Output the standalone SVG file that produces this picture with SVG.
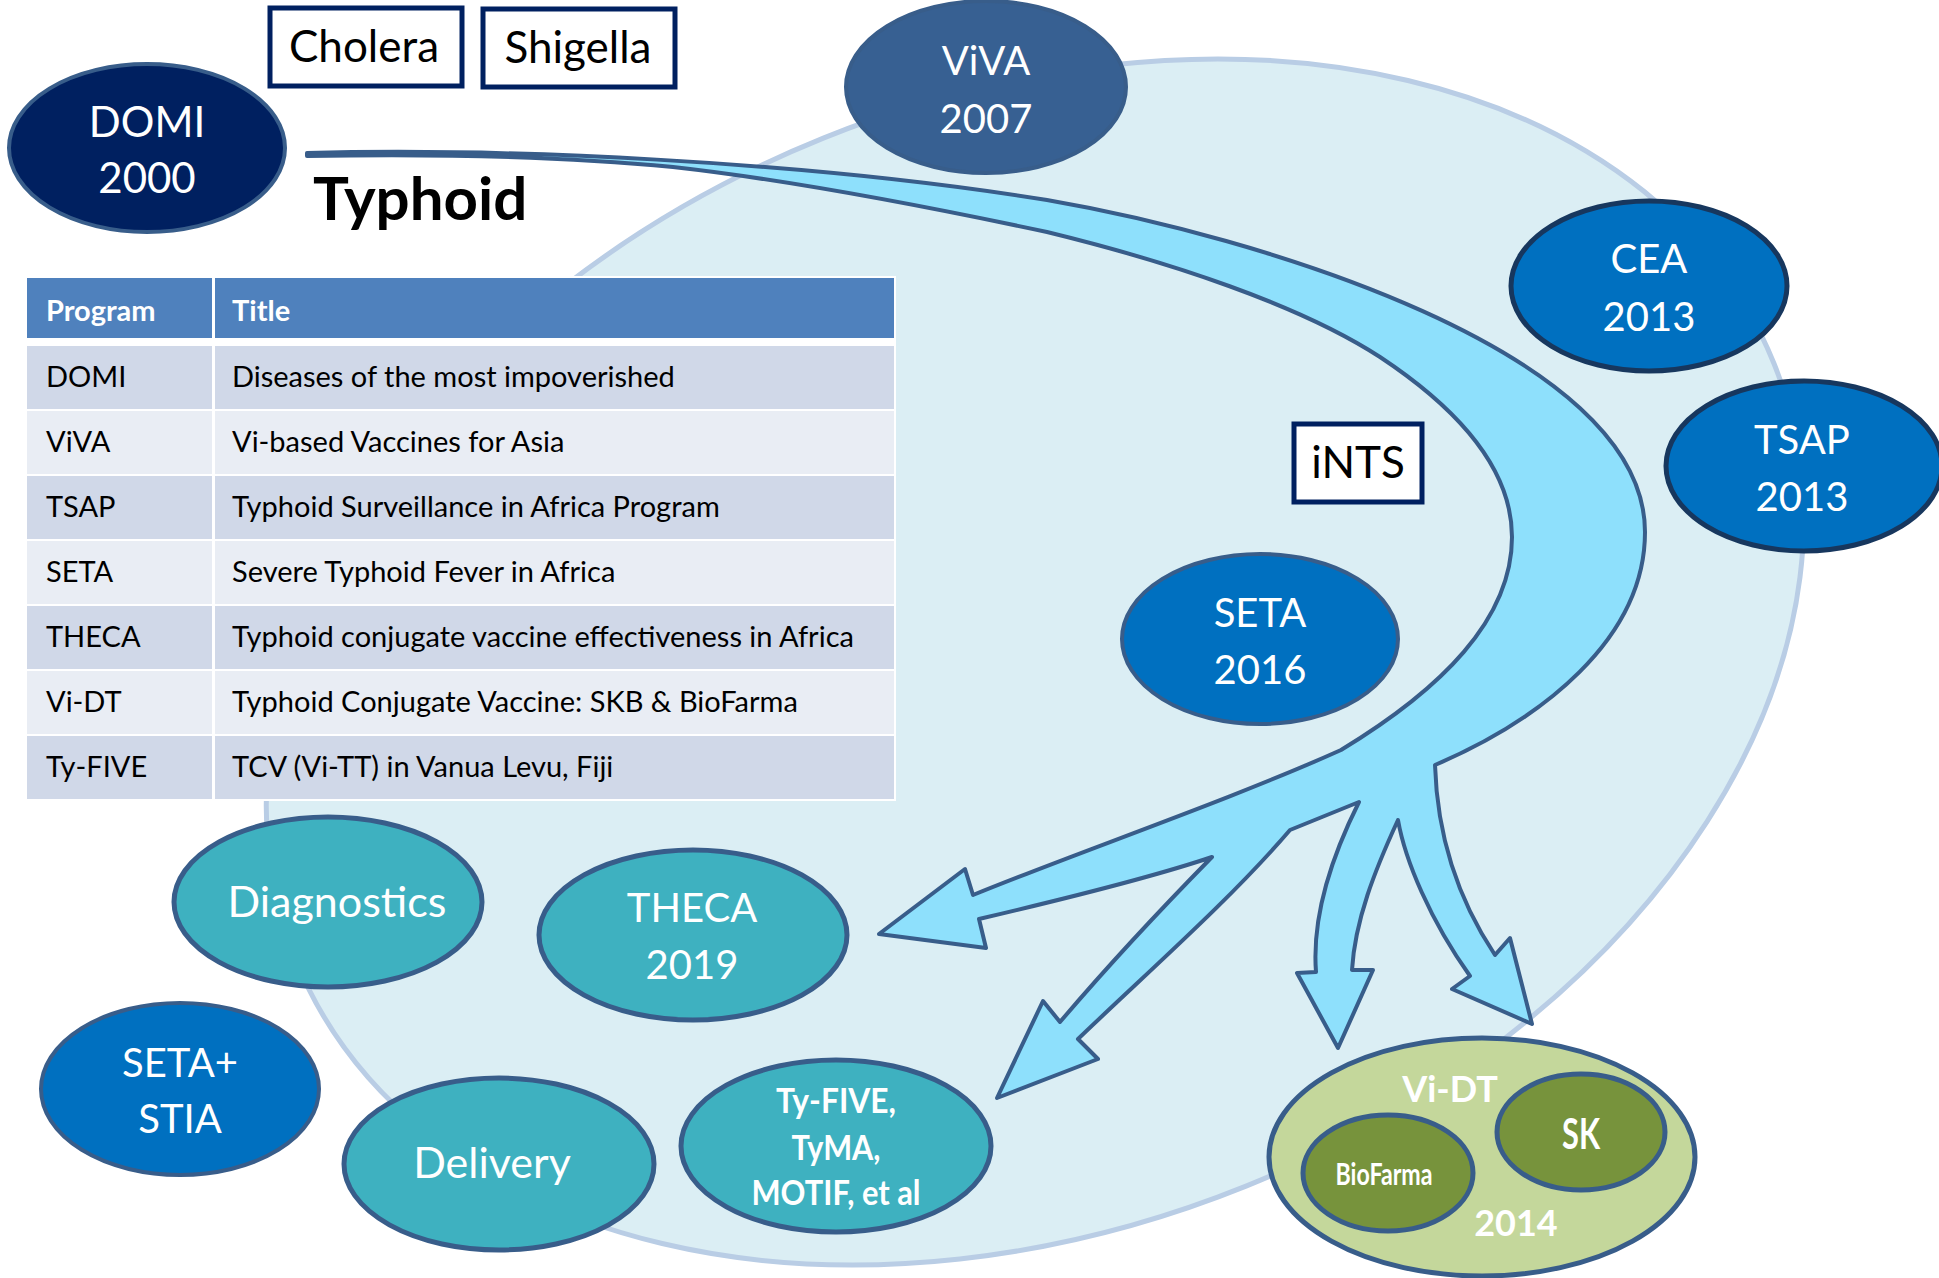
<svg xmlns="http://www.w3.org/2000/svg" width="1939" height="1278" viewBox="0 0 1939 1278">
<style>
.lbl{font-family:Lato,"Liberation Sans",sans-serif;fill:#fff;text-anchor:middle}
.big{font-size:40px}
.box{fill:#fff;stroke:#002060;stroke-width:5}
.boxt{font-family:Lato,"Liberation Sans",sans-serif;font-size:44px;fill:#000;text-anchor:middle}
.navy{fill:#002060;stroke:#385D8A;stroke-width:4}
.mid{fill:#376092;stroke:#385D8A;stroke-width:4}
.blue{fill:#0070C0;stroke:#385D8A;stroke-width:4}
.blue2{fill:#0070C0;stroke:#17375E;stroke-width:5}
.teal{fill:#3EB1C0;stroke:#385D8A;stroke-width:5}
.olive{fill:#C4D79B;stroke:#385D8A;stroke-width:5}
.dolive{fill:#77933C;stroke:#385D8A;stroke-width:5}
.th{font-family:Lato,"Liberation Sans",sans-serif;font-size:29px;font-weight:bold;fill:#fff}
.td{font-family:Lato,"Liberation Sans",sans-serif;font-size:29px;fill:#000}
.r1{fill:#D0D8E8}
.r2{fill:#E9EDF4}
.bold{font-weight:bold}
</style>
<rect width="1939" height="1278" fill="#fff"/>
<g id="background">
<ellipse cx="1035" cy="662" rx="797" ry="565" transform="rotate(-22 1035 662)" fill="#DBEEF4" stroke="#B9CDE5" stroke-width="5"/>
</g>
<g id="table">
<rect x="25" y="276" width="871" height="525" fill="#fff"/>
<rect x="27" y="278" width="185" height="60" fill="#4F81BD"/>
<rect x="215" y="278" width="679" height="60" fill="#4F81BD"/>
<text class="th" x="46" y="321">Program</text>
<text class="th" x="232" y="321">Title</text>
<rect class="r1" x="27" y="346" width="185" height="63"/><rect class="r1" x="215" y="346" width="679" height="63"/>
<rect class="r2" x="27" y="411" width="185" height="63"/><rect class="r2" x="215" y="411" width="679" height="63"/>
<rect class="r1" x="27" y="476" width="185" height="63"/><rect class="r1" x="215" y="476" width="679" height="63"/>
<rect class="r2" x="27" y="541" width="185" height="63"/><rect class="r2" x="215" y="541" width="679" height="63"/>
<rect class="r1" x="27" y="606" width="185" height="63"/><rect class="r1" x="215" y="606" width="679" height="63"/>
<rect class="r2" x="27" y="671" width="185" height="63"/><rect class="r2" x="215" y="671" width="679" height="63"/>
<rect class="r1" x="27" y="736" width="185" height="63"/><rect class="r1" x="215" y="736" width="679" height="63"/>
<text class="td" x="46" y="387">DOMI</text><text class="td" x="232" y="387">Diseases of the most impoverished</text>
<text class="td" x="46" y="452">ViVA</text><text class="td" x="232" y="452">Vi-based Vaccines for Asia</text>
<text class="td" x="46" y="517">TSAP</text><text class="td" x="232" y="517">Typhoid Surveillance in Africa Program</text>
<text class="td" x="46" y="582">SETA</text><text class="td" x="232" y="582">Severe Typhoid Fever in Africa</text>
<text class="td" x="46" y="647">THECA</text><text class="td" x="232" y="647">Typhoid conjugate vaccine effectiveness in Africa</text>
<text class="td" x="46" y="712">Vi-DT</text><text class="td" x="232" y="712">Typhoid Conjugate Vaccine: SKB &amp; BioFarma</text>
<text class="td" x="46" y="777">Ty-FIVE</text><text class="td" x="232" y="777">TCV (Vi-TT) in Vanua Levu, Fiji</text>
</g>
<g id="connectors">
<path d="M307,153 C500,148 800,160 1047,200 C1250,235 1645,350 1645,532 C1645,640 1540,720 1435,765 C1437,830 1455,895 1495,955 L1510,938 L1532,1024 L1452,989 L1470,976 C1430,920 1405,860 1398,820 C1375,870 1355,920 1352,970 L1373,970 L1338,1048 L1297,973 L1316,972 C1312,920 1330,860 1359,802 L1290,830 C1230,900 1150,970 1078,1039 L1098,1059 L997,1098 L1043,1001 L1060,1022 C1100,975 1160,910 1212,857 C1150,878 1060,900 979,919 L986,948 L879,934 L965,869 L973,895 C1070,855 1230,800 1341,750 C1440,690 1512,620 1512,537 C1512,470 1460,410 1380,357 C1300,305 1170,262 1047,232 C920,205 790,180 673,167 C560,156 420,154 307,156 Z" fill="#8EE0FC" stroke="#385D8A" stroke-width="4" stroke-linejoin="round"/>
</g>
<g id="typhoid-label">
<text x="313" y="220" font-family="Lato,'Liberation Sans',sans-serif" font-size="60" font-weight="bold" fill="#000">Typhoid</text>
</g>
<g id="cholera"><rect class="box" x="270" y="8" width="192" height="78"/><text class="boxt" x="364" y="62">Cholera</text></g>
<g id="shigella"><rect class="box" x="483" y="9" width="192" height="78"/><text class="boxt" x="578" y="63">Shigella</text></g>
<g id="ints"><rect class="box" x="1294" y="424" width="128" height="78"/><text class="boxt" x="1358" y="478" font-size="42">iNTS</text></g>
<g id="domi"><ellipse class="navy" cx="147" cy="148" rx="138" ry="84"/><text class="lbl" font-size="42" x="147" y="137">DOMI</text><text class="lbl" font-size="42" x="147" y="193">2000</text></g>
<g id="viva"><ellipse class="mid" cx="986" cy="87" rx="140" ry="86"/><text class="lbl big" x="986" y="75">ViVA</text><text class="lbl big" x="986" y="133">2007</text></g>
<g id="cea"><ellipse class="blue2" cx="1649" cy="286" rx="138" ry="85"/><text class="lbl big" x="1649" y="273">CEA</text><text class="lbl big" x="1649" y="331">2013</text></g>
<g id="tsap"><ellipse class="blue2" cx="1804" cy="466" rx="138" ry="85"/><text class="lbl big" x="1802" y="454">TSAP</text><text class="lbl big" x="1802" y="511">2013</text></g>
<g id="seta"><ellipse class="blue" cx="1260" cy="639" rx="138" ry="85"/><text class="lbl big" x="1260" y="627">SETA</text><text class="lbl big" x="1260" y="684">2016</text></g>
<g id="diagnostics"><ellipse class="teal" cx="328" cy="902" rx="154" ry="85"/><text class="lbl" font-size="43" x="337" y="917">Diagnostics</text></g>
<g id="theca"><ellipse class="teal" cx="693" cy="935" rx="154" ry="85"/><text class="lbl big" x="692" y="922">THECA</text><text class="lbl big" x="692" y="979">2019</text></g>
<g id="seta-stia"><ellipse class="blue" cx="180" cy="1089" rx="139" ry="86"/><text class="lbl big" x="180" y="1077">SETA+</text><text class="lbl big" x="180" y="1133">STIA</text></g>
<g id="delivery"><ellipse class="teal" cx="499" cy="1164" rx="155" ry="86"/><text class="lbl" font-size="43" x="492" y="1178">Delivery</text></g>
<g id="tyfive"><ellipse class="teal" cx="836" cy="1146" rx="155" ry="86"/>
<text class="lbl bold" font-size="34" x="836" y="1113" textLength="120" lengthAdjust="spacingAndGlyphs">Ty-FIVE,</text>
<text class="lbl bold" font-size="34" x="836" y="1160" textLength="89" lengthAdjust="spacingAndGlyphs">TyMA,</text>
<text class="lbl bold" font-size="34" x="836" y="1205" textLength="169" lengthAdjust="spacingAndGlyphs">MOTIF, et al</text></g>
<g id="vidt"><ellipse class="olive" cx="1482" cy="1157" rx="213" ry="119"/>
<text class="lbl bold" font-size="36" x="1450" y="1102">Vi-DT</text>
<text class="lbl bold" font-size="36" x="1516" y="1236">2014</text>
<g id="biofarma"><ellipse class="dolive" cx="1388" cy="1173" rx="85" ry="58"/><text class="lbl bold" font-size="30" x="1384" y="1185" textLength="97" lengthAdjust="spacingAndGlyphs">BioFarma</text></g>
<g id="sk"><ellipse class="dolive" cx="1581" cy="1132" rx="84" ry="58"/><text class="lbl bold" font-size="42" x="1581" y="1149" textLength="38" lengthAdjust="spacingAndGlyphs">SK</text></g>
</g>
</svg>
